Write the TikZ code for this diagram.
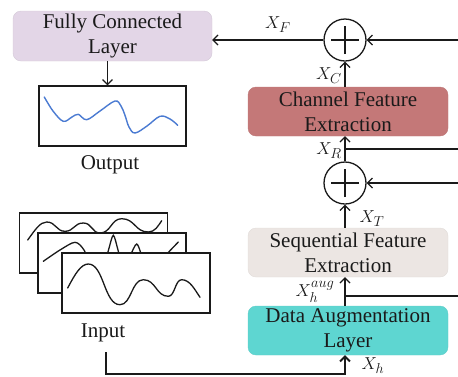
\documentclass[tikz,border=0pt]{standalone}
\usepackage{fontspec}
\setmainfont{Liberation Serif}
\usetikzlibrary{arrows.meta,calc}
\definecolor{fcfill}{HTML}{E3D6E7}
\definecolor{cfefill}{HTML}{C47878}
\definecolor{sfefill}{HTML}{ECE6E3}
\definecolor{dalfill}{HTML}{5ED6D1}
\definecolor{wave}{HTML}{4B7BD2}
\definecolor{ink}{HTML}{1A1A1A}
\begin{document}
\begin{tikzpicture}[x=1pt,y=-1pt,
  box/.style={rounded corners=8pt, minimum width=200pt, minimum height=49pt, align=center,
    font=\fontsize{21}{25}\selectfont, inner sep=0pt, text=ink},
  arr/.style={-{Straight Barb[length=5pt,width=10pt]}, line width=1.2pt, draw=ink},
  lab/.style={font=\fontsize{19}{22}\selectfont, inner sep=0pt, text=ink},
  txt/.style={font=\fontsize{21}{25}\selectfont, inner sep=0pt, text=ink},
  sum/.style={circle, draw=ink, line width=1.3pt, minimum size=42pt, inner sep=0pt,
    path picture={\draw[line width=1.8pt,ink] ([xshift=-14pt]path picture bounding box.center) -- ([xshift=14pt]path picture bounding box.center);
                  \draw[line width=1.8pt,ink] ([yshift=-14pt]path picture bounding box.center) -- ([yshift=14pt]path picture bounding box.center);}},
  sig/.style={rectangle, draw=ink, line width=1.3pt, fill=white, minimum width=148pt, minimum height=60pt, inner sep=0pt},
  curve/.style={line width=1.3pt, ink, line cap=round}]
\useasboundingbox (0,0) rectangle (458,376);

% blocks
\node[box, fill=fcfill, draw=fcfill!85!gray, minimum width=199pt, minimum height=50pt] (fc) at (112.5,36) {Fully Connected\\Layer};
\node[box, fill=cfefill, draw=cfefill!90!gray] (cfe) at (348,111.5) {Channel Feature\\Extraction};
\node[box, fill=sfefill, draw=sfefill!90!gray] (sfe) at (348,252.5) {Sequential Feature\\Extraction};
\node[box, fill=dalfill, draw=dalfill!90!gray] (dal) at (348,330.5) {Data Augmentation\\Layer};

\node[sum] (s1) at (345,40) {};
\node[sum] (s2) at (345,183) {};

% output
\node[sig, minimum width=147pt] (out) at (112.5,116) {};
\draw[wave, line width=1.4pt, line cap=round] plot[smooth, tension=0.6] coordinates {(44.3,97) (53,111) (63.3,121.3) (72,117) (78.3,114.3) (86.7,119.7) (100,111) (115,101) (121,106) (125,115.3) (129,127) (135,133) (147,126) (160,116.3) (170,119) (177.7,125.3)};
\node[txt] (outlab) at (110,165) {Output};

% input
\node[sig] (in1) at (93.5,243) {};
\draw[curve] (27.7,240) .. controls (35,230) and (40,222) .. (46.7,222)
  .. controls (56,222) and (56,231.3) .. (65,231.3)
  .. controls (74,231.3) and (74,223) .. (83.3,223)
  .. controls (92,223) and (92,233) .. (100,233)
  .. controls (111,233) and (111,218.7) .. (121.7,218.7)
  .. controls (135,218.7) and (135,232) .. (148.3,232)
  .. controls (155,232) and (158,226) .. (161.7,220.7);
\node[sig] (in2) at (112,263) {};
\draw[curve] plot[smooth, tension=0.5] coordinates {(43.3,261.3) (60,250) (75,242.3) (84,250) (92,268) (103,268) (108.5,250) (113.3,235.3) (118,250) (123,268) (130,256) (136.7,244) (142,256) (150,272) (163,258) (178.3,242)};
\node[sig] (in3) at (136,283) {};
\draw[curve] (67.7,288) .. controls (75,274) and (81,264) .. (88.3,264)
  .. controls (104,264) and (104,304.7) .. (120,304.7)
  .. controls (131.5,304.7) and (131.5,279.7) .. (143.3,279.7)
  .. controls (156,279.7) and (156,296.3) .. (168.3,296.3)
  .. controls (175,296.3) and (175,279.7) .. (181.7,279.7)
  .. controls (190,279.7) and (195,290) .. (200,297.3);
\node[txt] (inlab) at (103,333) {Input};

% right-side incoming lines
\coordinate (r1) at (458,40);
\coordinate (r2) at (458,149);
\coordinate (r3) at (458,183);
\coordinate (r4) at (458,296);
\coordinate (inb) at (106,352);
\coordinate (inc) at (106,374);

\draw[arr] (r1) -- (s1.east);
\draw[arr] (s1.west) -- (s1.west -| fc.east);
\draw[arr] ([xshift=-5pt]fc.south) -- ([xshift=-5pt]out.north);
\draw[arr] (cfe.north -| s1) -- (s1.south);
\draw[arr] (s2.north) -- (cfe.south -| s2);
\draw[line width=2pt, ink] (r2) -- (r2 -| s2);
\draw[arr] (r3) -- (s2.east);
\draw[arr] (sfe.north -| s2) -- (s2.south);
\draw[arr] (dal.north -| s2) -- (sfe.south -| s2);
\draw[line width=2pt, ink] (r4) -- (r4 -| s2);
\draw[arr, line width=1.8pt] (inb) -- (inc) -| (dal.south -| s2);

% labels
\node[lab] (lf) at (278,25) {$X_F$};
\node[lab] (lc) at (329,76) {$X_C$};
\node[lab] (lr) at (329,151) {$X_R$};
\node[lab] (lt) at (372,219) {$X_T$};
\node[lab] (la) at (315,292) {$X_h^{aug}$};
\node[lab] (lh) at (373,366) {$X_h$};
\end{tikzpicture}
\end{document}
